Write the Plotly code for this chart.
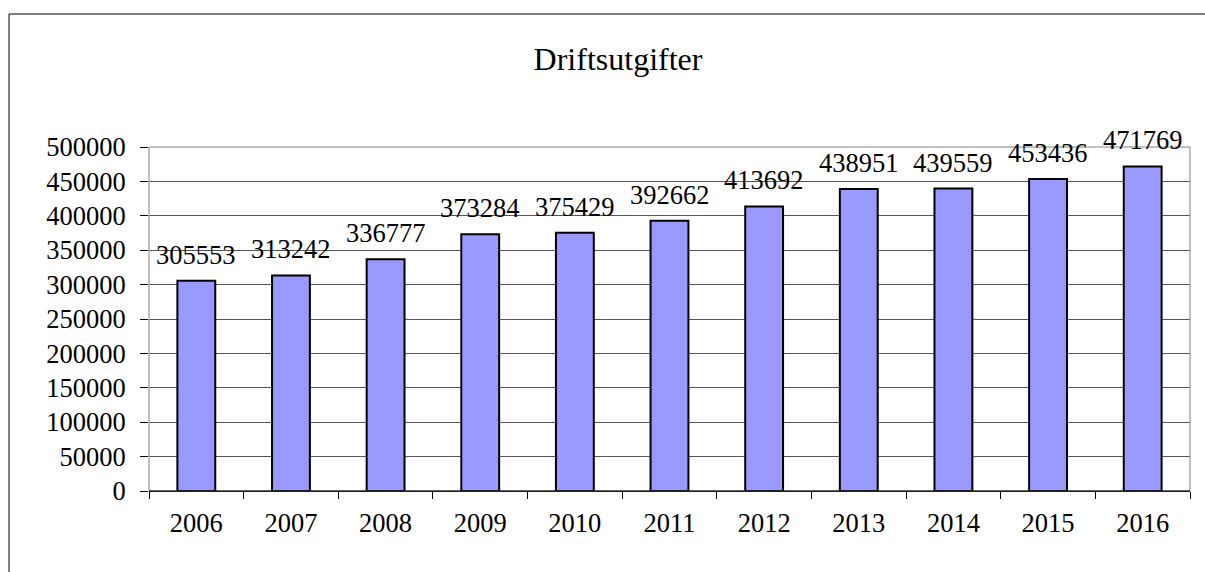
import plotly.graph_objects as go

years = ["2006", "2007", "2008", "2009", "2010", "2011", "2012", "2013", "2014", "2015", "2016"]
values = [305553, 313242, 336777, 373284, 375429, 392662, 413692, 438951, 439559, 453436, 471769]
y_ticks = [0, 50000, 100000, 150000, 200000, 250000, 300000, 350000, 400000, 450000, 500000]

FONT = "Liberation Serif, Times New Roman, serif"
FS = 26.5
W, H = 1205, 572
L, R, T, B = 149, 15, 147, 81
pw, ph = W - L - R, H - T - B

def px(x):
    return (x - L) / pw

def py(y):
    return (H - B - y) / ph

idx = list(range(len(years)))
bounds = [i - 0.5 for i in range(len(years) + 1)]

fig = go.Figure()
fig.add_trace(go.Bar(
    x=idx, y=values, width=0.4,
    marker=dict(color="#9999FF", line=dict(color="#000000", width=2)),
    hovertext=years, hoverinfo="text+y",
))

annotations = []
for i, v in zip(idx, values):
    annotations.append(dict(
        x=i, y=v, xref="x", yref="y", text=str(v), showarrow=False,
        yanchor="middle", xanchor="center", yshift=26,
        font=dict(family=FONT, size=FS, color="#000000"),
    ))

fig.update_layout(
    width=W, height=H,
    margin=dict(l=L, r=R, t=T, b=B, pad=0),
    paper_bgcolor="white", plot_bgcolor="white",
    showlegend=False,
    font=dict(family=FONT, size=FS, color="#000000"),
    title=dict(text="Driftsutgifter", xref="container", yref="container",
               x=618 / W, y=1 - 59 / H, xanchor="center", yanchor="middle",
               font=dict(family=FONT, size=32, color="#000000")),
    annotations=annotations,
    xaxis=dict(
        type="linear", range=[-0.5, len(years) - 0.5], automargin=False,
        tickvals=idx, ticktext=years, ticks="", tickangle=0, ticklabelstandoff=8,
        showgrid=False, showline=True, linecolor="#000000", linewidth=1,
        tickfont=dict(family=FONT, size=FS, color="#000000"),
        minor=dict(tickvals=bounds, ticks="outside", ticklen=7, tickcolor="#000000", showgrid=False),
        zeroline=False, fixedrange=True,
    ),
    yaxis=dict(
        range=[0, 500000], automargin=False,
        tickvals=y_ticks, ticktext=[str(t) for t in y_ticks], ticklabelstandoff=9,
        showgrid=True, gridcolor="#555555", gridwidth=1,
        showline=False, ticks="outside", ticklen=8, tickcolor="#000000",
        tickfont=dict(family=FONT, size=FS, color="#000000"),
        zeroline=False, fixedrange=True,
    ),
    shapes=[
        dict(type="rect", xref="paper", yref="paper", x0=0, x1=1, y0=0, y1=1,
             line=dict(color="#808080", width=1), layer="above"),
        dict(type="line", xref="paper", yref="paper", x0=0, x1=1, y0=0, y1=0,
             line=dict(color="#000000", width=1), layer="above"),
        dict(type="line", xref="paper", yref="paper", x0=px(9), x1=px(9), y0=py(14), y1=py(H),
             line=dict(color="#000000", width=1)),
        dict(type="line", xref="paper", yref="paper", x0=px(9), x1=px(W), y0=py(14), y1=py(14),
             line=dict(color="#000000", width=1)),
    ],
)

fig.write_html(
    "out.html",
    config={"displayModeBar": False},
    post_script="document.body.style.margin='0';document.body.style.overflow='hidden';",
)
